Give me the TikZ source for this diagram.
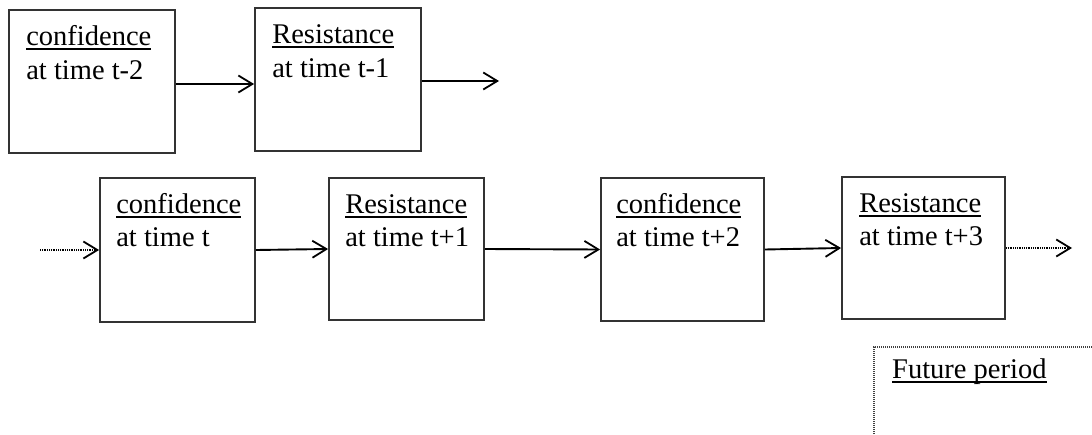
\documentclass[tikz,border=0pt]{standalone}
\usepackage{fontspec}
\setmainfont{Liberation Serif}
\usetikzlibrary{arrows.meta,calc}

% underline at a fixed depth below the baseline
\newcommand\wordline[1]{\setbox0\hbox{#1}\rlap{\rule[-4.8pt]{\wd0}{1.5pt}}\box0}

\tikzset{
  stagebox/.style={draw=black!80, line width=1.8pt, rectangle, inner sep=0pt},
  lbl/.style={inner sep=0pt, anchor=base west, font=\fontsize{28.5}{34}\selectfont},
  arr/.style={line width=1.9pt, -{Straight Barb[length=14pt,width=17pt,line width=1.8pt]}},
  darr/.style={line width=1.5pt, dash pattern=on 1pt off 0.8pt, -{Straight Barb[length=14pt,width=17pt,line width=1.8pt]}},
  fut/.style={line width=1.4pt, dash pattern=on 1pt off 1pt, black!75},
}

\begin{document}
\begin{tikzpicture}[x=1pt,y=-1pt]
\useasboundingbox (0,0) rectangle (1092,434);

% stage boxes, top row
\node[stagebox, minimum width=166pt, minimum height=143pt] (b1) at (92,81.5) {};
\node[stagebox, minimum width=166pt, minimum height=143pt] (b2) at (338,79.5) {};
% stage boxes, bottom row
\node[stagebox, minimum width=155pt, minimum height=144pt] (b3) at (177.5,250) {};
\node[stagebox, minimum width=155pt, minimum height=142pt] (b4) at (406.5,249) {};
\node[stagebox, minimum width=163pt, minimum height=143pt] (b5) at (682.5,249.5) {};
\node[stagebox, minimum width=163pt, minimum height=142pt] (b6) at (923.5,248) {};

% box captions
\node[lbl] (b1a) at ($(b1.north west)+(18,36)$) {\wordline{confidence}};
\node[lbl] (b1b) at ($(b1.north west)+(18,70)$) {at time t-2};
\node[lbl] (b2a) at ($(b2.north west)+(18,36)$) {\wordline{Resistance}};
\node[lbl] (b2b) at ($(b2.north west)+(18,70)$) {at time t-1};
\node[lbl] (b3a) at ($(b3.north west)+(17,36)$) {\wordline{confidence}};
\node[lbl] (b3b) at ($(b3.north west)+(17,69)$) {at time t};
\node[lbl] (b4a) at ($(b4.north west)+(17,36)$) {\wordline{Resistance}};
\node[lbl] (b4b) at ($(b4.north west)+(17,69)$) {at time t+1};
\node[lbl] (b5a) at ($(b5.north west)+(16,36)$) {\wordline{confidence}};
\node[lbl] (b5b) at ($(b5.north west)+(16,69)$) {at time t+2};
\node[lbl] (b6a) at ($(b6.north west)+(18,36)$) {\wordline{Resistance}};
\node[lbl] (b6b) at ($(b6.north west)+(18,69)$) {at time t+3};

% free arrow ends
\coordinate (out2) at (499,81);
\coordinate (in3) at (40,250);
\coordinate (out6) at (1072,248);

% connectors
\draw[arr] ([yshift=-2.5pt]b1.east) -- ([yshift=-4.5pt]b2.west);
\draw[arr] ([yshift=-1.5pt]b2.east) -- (out2);
\draw[darr] (in3) -- (b3.west);
\draw[arr] (b3.east) -- (b4.west);
\draw[arr] (b4.east) -- (b5.west);
\draw[arr] (b5.east) -- (b6.west);
\draw[darr] (b6.east) -- (out6);

% future period panel (runs off the page)
\coordinate (fbl) at (874,434);
\coordinate (ftl) at (874,347);
\coordinate (ftr) at (1092,347);
\draw[fut] (fbl) -- (ftl) -- (ftr);
\node[lbl] (ftxt) at (892,378) {\wordline{Future period}};
\end{tikzpicture}
\end{document}
